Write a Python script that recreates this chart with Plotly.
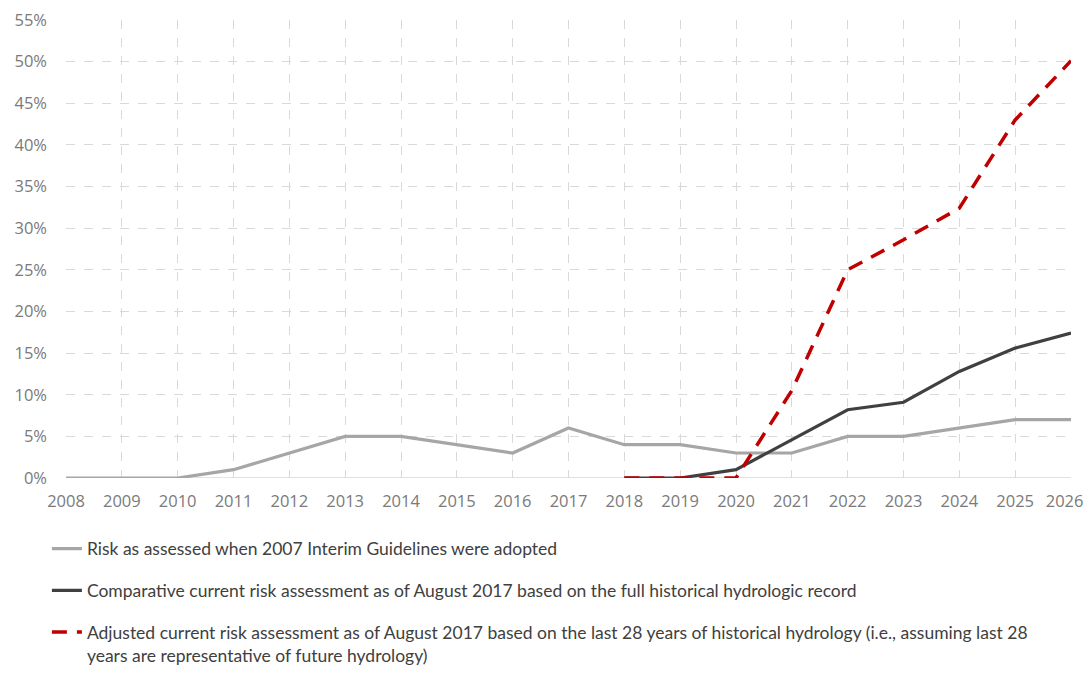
import plotly.graph_objects as go

years_all = list(range(2008, 2027))
risk_2007 = [0, 0, 0, 1, 3, 5, 5, 4, 3, 6, 4, 4, 3, 3, 5, 5, 6, 7, 7]

years_current = list(range(2018, 2027))
risk_full = [0, 0, 1, 4.6, 8.2, 9.1, 12.8, 15.6, 17.4]
risk_28yr = [0, 0, 0, 10.5, 25, 28.6, 32.4, 43, 50.1]

year_labels = [str(y) for y in years_all]
# pad the last label so it is not clipped by the page edge
year_labels[-1] = year_labels[-1] + "\u00a0\u00a0\u00a0"

names = [
    "Risk as assessed when 2007 Interim Guidelines were adopted",
    "Comparative current risk assessment as of August 2017 based on the full historical hydrologic record",
    "Adjusted current risk assessment as of August 2017 based on the last 28 years of historical hydrology (i.e., assuming last 28<br>years are representative of future hydrology)",
]

fig = go.Figure()
fig.add_trace(go.Scatter(x=years_all, y=[v / 100 for v in risk_2007], mode="lines",
                         name=names[0], legendgroup="a",
                         line=dict(color="#a6a6a6", width=3.2)))
fig.add_trace(go.Scatter(x=years_current, y=[v / 100 for v in risk_full], mode="lines",
                         name=names[1], legendgroup="b",
                         line=dict(color="#404040", width=3.2)))
fig.add_trace(go.Scatter(x=years_current, y=[v / 100 for v in risk_28yr], mode="lines",
                         name=names[2], legendgroup="c",
                         line=dict(color="#c00000", width=3.5, dash="15px,10px")))

fig.update_layout(
    width=1084, height=659,
    margin=dict(l=58, r=21, t=12, b=189, autoexpand=False),
    plot_bgcolor="white", paper_bgcolor="white",
    font=dict(family="Open Sans, sans-serif", color="#7a7a7a", size=16),
    xaxis=dict(range=[2008, 2026], tickmode="array", tickvals=years_all,
               ticktext=year_labels, tickangle=0,
               showgrid=True, gridcolor="#d9d9d9", griddash="dash", gridwidth=1,
               zeroline=False, showline=False, ticks="", tickfont=dict(size=16.5),
               ticklabelstandoff=11, ticklabeloverflow="allow", automargin=False),
    yaxis=dict(range=[0, 0.55], dtick=0.05, tickformat=".0%",
               showgrid=True, gridcolor="#d9d9d9", griddash="dash", gridwidth=1,
               zeroline=False, showline=False, ticks="", tickfont=dict(size=16.5),
               ticklabelstandoff=18, ticklabeloverflow="allow", automargin=False),
    legend=dict(x=-0.019, y=-0.115, xref="paper", yref="paper",
                xanchor="left", yanchor="top", orientation="v",
                traceorder="grouped", tracegroupgap=16, valign="top",
                font=dict(family="Lato, sans-serif", size=17.5, color="#404040"),
                bgcolor="rgba(0,0,0,0)"),
    showlegend=True,
)
fig.add_shape(type="line", xref="paper", yref="y", x0=0, x1=1, y0=0, y1=0,
              line=dict(color="#d9d9d9", width=1.5), layer="below")

fig.write_html("out.html")
